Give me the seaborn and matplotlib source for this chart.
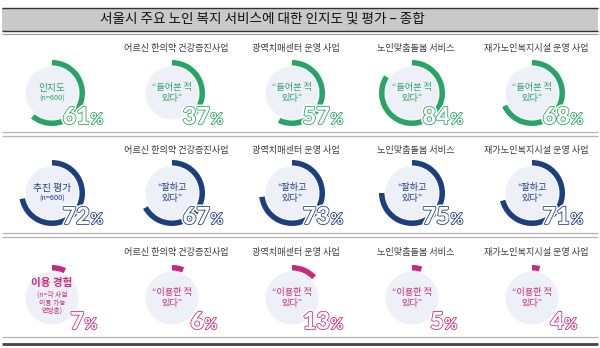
import matplotlib
matplotlib.use("Agg")
import matplotlib.pyplot as plt
import matplotlib.patheffects as pe
from matplotlib.patches import Circle, Rectangle
import seaborn as sns

# ---------------- data ----------------
title = "서울시 주요 노인 복지 서비스에 대한 인지도 및 평가 – 종합"
categories = ["어르신 한의약 건강증진사업", "광역치매센터 운영 사업",
              "노인맞춤돌봄 서비스", "재가노인복지시설 운영 사업"]
awareness = [61, 37, 57, 84, 68]      # overall first, then each service
evaluation = [72, 67, 73, 75, 71]
usage = [7, 6, 13, 5, 4]
row_titles = ["인지도", "추진 평가", "이용 경험"]
row_subs = [["(n=600)"], ["(n=600)"], ["(n=각 사업", "이용 가능", "연령층)"]]
row_phrases = ["“들어본 적\n있다”", "“잘하고\n있다”", "“이용한 적\n있다”"]
row_colors = ["#2aa466", "#1c3f80", "#c8297d"]

# ---------------- layout ----------------
W, H = 600, 348
sns.set_theme(style="white")
plt.rcParams["font.family"] = ["Noto Sans CJK KR", "DejaVu Sans"]

fig = plt.figure(figsize=(6.0, 3.48), dpi=100)
ax = fig.add_axes([0, 0, 1, 1])
ax.set_axis_off()

def Y(y):
    return H - y

col_x = [52, 172, 292, 412, 532]
row_y = [93, 193, 298]
label_y = [48, 150, 252]
R_OUT, R_W, R_IN = 33, 5.5, 26.5
circle_fill = "#eef0f8"

series = [awareness, evaluation, usage]

for r, vals in enumerate(series):
    color = row_colors[r]
    cy = row_y[r]
    # category labels
    for c, cat in enumerate(categories):
        ax.text(col_x[c + 1] + 4, Y(label_y[r]), cat, ha="center", va="center",
                fontsize=6.6, color="#3c3c3c")
    for c, v in enumerate(vals):
        cx = col_x[c]
        ax.add_patch(Circle((cx, Y(cy)), R_IN, facecolor=circle_fill,
                            edgecolor="none", zorder=1))
        wedges, _ = ax.pie([v, 100 - v], colors=[color, (1, 1, 1, 0)],
                           radius=R_OUT, center=(cx, Y(cy)), startangle=90,
                           counterclock=False, frame=False,
                           wedgeprops=dict(width=R_W, edgecolor="none"))
        for w in wedges:
            w.set_zorder(2)
        # inner text
        if c == 0:
            if r < 2:
                ax.text(cx, Y(cy - 5), row_titles[r], ha="center", va="center",
                        fontsize=7, color=color, zorder=3)
                ax.text(cx, Y(cy + 6), row_subs[r][0], ha="center", va="center",
                        fontsize=5.3, color=color, zorder=3)
            else:
                ax.text(cx, Y(cy - 15), row_titles[r], ha="center", va="center",
                        fontsize=7.6, fontweight="bold", color=color, zorder=3)
                for k, line in enumerate(row_subs[r]):
                    ax.text(cx, Y(cy - 3 + 7.8 * k), line, ha="center",
                            va="center", fontsize=4.9, color=color, zorder=3)
        else:
            ax.text(cx, Y(cy), row_phrases[r], ha="center", va="center",
                    fontsize=6.6, color=color, zorder=3, linespacing=1.35)
        # big outlined percentage
        effects = [pe.Stroke(linewidth=3.4, foreground="white"),
                   pe.Stroke(linewidth=1.15, foreground=color),
                   pe.Normal()]
        num = str(v)
        anchor = cx + (38 if len(num) == 2 else 32)
        ax.text(anchor, Y(cy + 31), num, ha="right", va="baseline",
                fontsize=17, fontweight="black", family=["Lato", "DejaVu Sans"],
                color="white", path_effects=effects, zorder=4)
        ax.text(anchor + 0.5, Y(cy + 31), "%", ha="left", va="baseline",
                fontsize=11, fontweight="black", family=["Lato", "DejaVu Sans"],
                color="white", path_effects=effects, zorder=4)

# title bar
ax.add_patch(Rectangle((2, Y(30.5)), 596, 23, facecolor="#c9c9c9",
                       edgecolor="none", zorder=0))
ax.hlines([Y(7.5)], 2, 598, color="#333333", linewidth=1.0)
ax.hlines([Y(30.5)], 2, 598, color="#333333", linewidth=1.0)
ax.hlines([Y(33.5)], 2, 598, color="#9a9a9a", linewidth=0.8)
ax.text(262, Y(19), title, ha="center", va="center", fontsize=9.8,
        fontweight="medium", color="#111111")

# separators
for yy in (132, 135.5, 233, 236.5):
    ax.hlines([Y(yy)], 2, 598, color="#b4b4b4", linewidth=0.9)
ax.hlines([Y(337)], 2, 598, color="#b4b4b4", linewidth=0.9)
ax.hlines([Y(343.5)], 2, 598, color="#444444", linewidth=2.0)

ax.set_xlim(0, W)
ax.set_ylim(0, H)
ax.set_aspect("auto")

fig.savefig("out.png", dpi=100, facecolor="white")
